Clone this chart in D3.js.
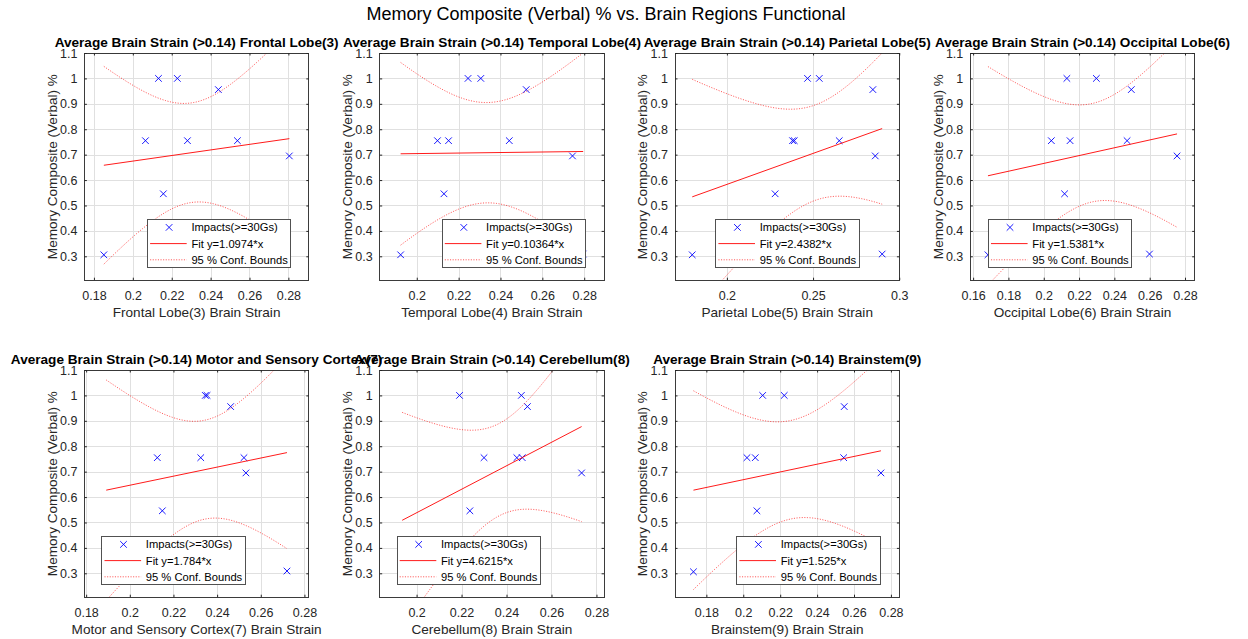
<!DOCTYPE html>
<html>
<head>
<meta charset="utf-8">
<script src="https://cdn.jsdelivr.net/npm/d3@7"></script>
<style>
  body { margin: 0; background: #fff; }
  svg { display: block; font-family: "Liberation Sans", Arial, Helvetica, sans-serif; }
</style>
</head>
<body>
<svg id="chart" width="1248" height="639"></svg>
<script>
// ---- data ---------------------------------------------------------------
const regions = [
  "Frontal Lobe(3)", "Temporal Lobe(4)", "Parietal Lobe(5)", "Occipital Lobe(6)",
  "Motor and Sensory Cortex(7)", "Cerebellum(8)", "Brainstem(9)"
];

// Memory composite (verbal) score of each player, same order in every region
const memoryScores = [1.0, 1.0, 0.956, 0.755, 0.755, 0.755, 0.695, 0.546, 0.306, 0.309];

// Average brain strain (>0.14) per region, one value per player
const frontalStrain    = [0.2132, 0.2229, 0.2440, 0.2065, 0.2281, 0.2538, 0.2805, 0.2157, 0.1851, 0.2515];
const temporalStrain   = [0.2245, 0.2306, 0.2523, 0.2099, 0.2152, 0.2442, 0.2744, 0.2130, 0.1923, 0.2795];
const parietalStrain   = [0.2468, 0.2536, 0.2847, 0.2381, 0.2391, 0.2652, 0.2861, 0.2280, 0.1799, 0.2901];
const occipitalStrain  = [0.2131, 0.2298, 0.2496, 0.2043, 0.2149, 0.2472, 0.2755, 0.2118, 0.1684, 0.2599];
const motorStrain      = [0.2346, 0.2354, 0.2462, 0.2126, 0.2325, 0.2523, 0.2532, 0.2149, 0.1892, 0.2720];
const cerebellumStrain = [0.2191, 0.2466, 0.2493, 0.2300, 0.2446, 0.2470, 0.2734, 0.2237, 0.1936, 0.2395];
const brainstemStrain  = [0.2105, 0.2222, 0.2547, 0.2020, 0.2065, 0.2544, 0.2746, 0.2074, 0.1730, 0.2528];

const strainByRegion = [frontalStrain, temporalStrain, parietalStrain, occipitalStrain,
                        motorStrain, cerebellumStrain, brainstemStrain];

// slopes of the linear fits
const fitSlopes = [1.0974, 0.10364, 2.4382, 1.5381, 1.784, 4.6215, 1.525];

// tick values
const xTickValues = [
  [0.18, 0.2, 0.22, 0.24, 0.26, 0.28],
  [0.2, 0.22, 0.24, 0.26, 0.28],
  [0.2, 0.25, 0.3],
  [0.16, 0.18, 0.2, 0.22, 0.24, 0.26, 0.28],
  [0.18, 0.2, 0.22, 0.24, 0.26, 0.28],
  [0.2, 0.22, 0.24, 0.26, 0.28],
  [0.18, 0.2, 0.22, 0.24, 0.26, 0.28]
];
const yTickValues = [0.3, 0.4, 0.5, 0.6, 0.7, 0.8, 0.9, 1.0, 1.1];

const chartTitle = "Memory Composite (Verbal) % vs. Brain Regions Functional";
const panelTitlePrefix = "Average Brain Strain (>0.14) ";
const yAxisLabel = "Memory Composite (Verbal) %";
const pointLabel = "Impacts(>=30Gs)";
const boundsLabel = "95 % Conf. Bounds";
const tCritical = 2.306;   // two-sided 95 %, 8 degrees of freedom

// ---- layout -------------------------------------------------------------
const axW = 224.4, axH = 227.2;
const colLeft = [84.4, 379.7, 675.0, 970.3];
const rowTop = [53, 370];
const legendOffsets = [[63, 166], [62.4, 166], [40.7, 166], [18, 166], [17.4, 166], [17.3, 166], [61.7, 166]];
const legendW = 143.5, legendH = 48.5;

const inkColor = "#262626";
const gridColor = "#e0e0e0";
const fmt = d3.format("~g");

const svg = d3.select("#chart");

svg.append("text")
  .attr("x", 606).attr("y", 19.5)
  .attr("text-anchor", "middle")
  .style("font-size", "18px")
  .attr("fill", "#000")
  .text(chartTitle);

regions.forEach((region, k) => {
  const xs = strainByRegion[k];
  const ys = memoryScores;
  const n = xs.length;
  const pts = xs.map((x, i) => ({ x, y: ys[i] }));

  const [xMin, xMax] = d3.extent(xs);
  const [yMin, yMax] = d3.extent(ys);

  const x = d3.scaleLinear().domain([xMin - 0.01, xMax + 0.01]).range([0, axW]);
  const y = d3.scaleLinear().domain([yMin - 0.1, yMax + 0.1]).range([axH, 0]);

  // least-squares line with the reported slope, through the centroid
  const slope = fitSlopes[k];
  const xBar = d3.mean(xs), yBar = d3.mean(ys);
  const intercept = yBar - slope * xBar;
  const predict = v => intercept + slope * v;
  const sse = d3.sum(pts, p => (p.y - predict(p.x)) ** 2);
  const s = Math.sqrt(sse / (n - 2));
  const sxx = d3.sum(xs, v => (v - xBar) ** 2);
  const halfWidth = v => tCritical * s * Math.sqrt(1 / n + (v - xBar) ** 2 / sxx);

  const col = k % 4, row = Math.floor(k / 4);
  const g = svg.append("g").attr("transform", `translate(${colLeft[col]},${rowTop[row]})`);

  const clipId = `clip${k}`;
  g.append("clipPath").attr("id", clipId)
    .append("rect").attr("width", axW).attr("height", axH);

  // grid
  const xt = xTickValues[k];
  g.append("g").attr("transform", `translate(0,${axH})`)
    .call(d3.axisBottom(x).tickValues(xt).tickSize(-axH).tickFormat(""))
    .call(a => a.select(".domain").remove())
    .call(a => a.selectAll("line").attr("stroke", gridColor).attr("shape-rendering", "crispEdges"));
  g.append("g")
    .call(d3.axisLeft(y).tickValues(yTickValues).tickSize(-axW).tickFormat(""))
    .call(a => a.select(".domain").remove())
    .call(a => a.selectAll("line").attr("stroke", gridColor).attr("shape-rendering", "crispEdges"));

  const plot = g.append("g").attr("clip-path", `url(#${clipId})`);

  // data points
  plot.selectAll("path.pt").data(pts).join("path")
    .attr("class", "pt")
    .attr("transform", d => `translate(${x(d.x)},${y(d.y)})`)
    .attr("d", "M-3.3,-3.3L3.3,3.3M-3.3,3.3L3.3,-3.3")
    .attr("stroke", "#0000ff").attr("stroke-width", 0.9).attr("fill", "none");

  // fit line
  const line = d3.line().x(d => x(d[0])).y(d => y(d[1]));
  plot.append("path")
    .attr("d", line([[xMin, predict(xMin)], [xMax, predict(xMax)]]))
    .attr("stroke", "#ff0000").attr("stroke-width", 0.9).attr("fill", "none");

  // 95 % confidence bounds
  const samples = d3.range(0, 121).map(i => xMin + (xMax - xMin) * i / 120);
  [1, -1].forEach(sign => {
    plot.append("path")
      .attr("d", line(samples.map(v => [v, predict(v) + sign * halfWidth(v)])))
      .attr("stroke", "#ff0000").attr("stroke-width", 0.9)
      .attr("stroke-dasharray", "1.1,1.5").attr("opacity", 0.72).attr("fill", "none");
  });

  // axes with inward ticks and labels
  const xAxis = g.append("g").attr("transform", `translate(0,${axH})`)
    .call(d3.axisBottom(x).tickValues(xt).tickFormat(fmt).tickSizeInner(-2.5).tickSizeOuter(0).tickPadding(11));
  const yAxis = g.append("g")
    .call(d3.axisLeft(y).tickValues(yTickValues).tickFormat(fmt).tickSizeInner(-2.5).tickSizeOuter(0).tickPadding(7));
  g.append("g")
    .call(d3.axisTop(x).tickValues(xt).tickFormat("").tickSizeInner(-2.5).tickSizeOuter(0));
  g.append("g").attr("transform", `translate(${axW},0)`)
    .call(d3.axisRight(y).tickValues(yTickValues).tickFormat("").tickSizeInner(-2.5).tickSizeOuter(0));
  g.selectAll(".domain").remove();
  g.selectAll(".tick line").filter(function () { return this.getAttribute("stroke") === "currentColor"; })
    .attr("stroke", inkColor);
  [xAxis, yAxis].forEach(a => a.selectAll("text")
    .attr("fill", inkColor)
    .style("font-size", "12.5px")
    .style("font-family", '"Liberation Sans", Arial, sans-serif'));

  // axes box
  g.append("rect").attr("width", axW).attr("height", axH)
    .attr("fill", "none").attr("stroke", inkColor).attr("stroke-width", 0.9)
    .attr("shape-rendering", "crispEdges");

  // legend
  const [lx, ly] = legendOffsets[k];
  const lg = g.append("g").attr("transform", `translate(${lx},${ly})`);
  lg.append("rect").attr("width", legendW).attr("height", legendH)
    .attr("fill", "#fff").attr("stroke", inkColor).attr("stroke-width", 0.8)
    .attr("shape-rendering", "crispEdges");
  const rowsY = [8.4, 24.6, 40.8];
  lg.append("path")
    .attr("transform", `translate(21.7,${rowsY[0]})`)
    .attr("d", "M-3.3,-3.3L3.3,3.3M-3.3,3.3L3.3,-3.3")
    .attr("stroke", "#0000ff").attr("stroke-width", 0.9).attr("fill", "none");
  lg.append("line").attr("x1", 2.7).attr("x2", 39.3).attr("y1", rowsY[1]).attr("y2", rowsY[1])
    .attr("stroke", "#ff0000").attr("stroke-width", 0.9);
  lg.append("line").attr("x1", 2.7).attr("x2", 39.3).attr("y1", rowsY[2]).attr("y2", rowsY[2])
    .attr("stroke", "#ff0000").attr("stroke-width", 0.9)
    .attr("stroke-dasharray", "1.1,1.5").attr("opacity", 0.72);
  [pointLabel, `Fit y=${slope}*x`, boundsLabel].forEach((t, i) => {
    lg.append("text").attr("x", 44).attr("y", rowsY[i]).attr("dy", "0.36em")
      .style("font-size", "11.2px").attr("fill", "#000").text(t);
  });

  // titles and labels
  g.append("text").attr("x", axW / 2).attr("y", -5.7)
    .attr("text-anchor", "middle")
    .style("font-size", "13.6px").style("font-weight", "bold").attr("fill", "#000")
    .text(panelTitlePrefix + region);
  g.append("text").attr("x", axW / 2).attr("y", axH + 37)
    .attr("text-anchor", "middle")
    .style("font-size", "13.6px").attr("fill", inkColor)
    .text(region + " Brain Strain");
  g.append("text")
    .attr("transform", `translate(-27.6,${axH / 2}) rotate(-90)`)
    .attr("text-anchor", "middle")
    .style("font-size", "13.6px").attr("fill", inkColor)
    .text(yAxisLabel);
});
</script>
</body>
</html>
